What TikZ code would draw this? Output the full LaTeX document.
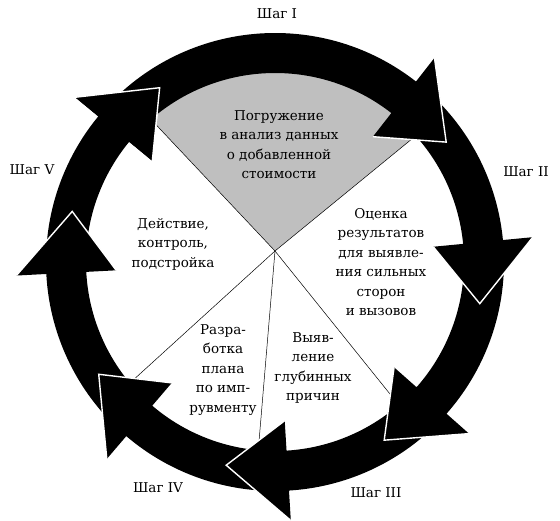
\documentclass[tikz,border=0pt]{standalone}
\usepackage{fontspec}
\setmainfont{DejaVu Serif}
\tikzset{
  pieline/.style={draw=black, line width=0.5pt},
  headedge/.style={draw=white, line width=1.4pt, line join=miter},
  sectortext/.style={align=center, inner sep=0pt, font=\fontsize{13.5}{19.5}\selectfont},
  steptext/.style={inner sep=0pt, font=\fontsize{13.5}{16}\selectfont}
}
\begin{document}
\begin{tikzpicture}[x=1pt,y=1pt]
\useasboundingbox (0,0) rectangle (560,521);
\coordinate (O) at (275,259);
\coordinate (P) at (275,270);

% sectors
\begin{scope}
\clip (O) circle (190);
\begin{scope}[shift={(P)}]
\fill[gray!50] (0,0) -- (39.3:320) -- (86:400) -- (133.3:320) -- cycle;
\foreach \a in {39.3,133.3,222.3,265.2,308.8}
  \draw[pieline] (0,0) -- (\a:320);
\end{scope}
\end{scope}

% ring of arrows: tail/base/tip angles
\begin{scope}[shift={(O)}]
\foreach \s/\b/\t in {-182/-219.5/-236.5, -135.5/-177/-194, -91.5/-130.5/-147.5,
                      -46.5/-86.5/-103.5, 0.5/-41.5/-58.5, 47/5.5/-11.5, 135.5/52/35}
{
  \fill (\s:189) -- (\s:229) arc[start angle=\s, end angle=\b, radius=229]
    -- (\b:259) -- (\t:209) -- (\b:159) -- (\b:189)
    arc[start angle=\b, end angle=\s, radius=189] -- cycle;
  \draw[headedge] (\b:259) -- (\t:209) -- (\b:159);
}
\fill (-219.5:259) -- (-236.5:209) -- (-219.5:159) -- cycle;
\draw[headedge] (-219.5:259) -- (-236.5:209) -- (-219.5:159);
\end{scope}

\node[sectortext] (immersion) at (279,376.5) {Погружение\\в анализ данных\\о добавленной\\стоимости};
\node[sectortext] (evaluation) at (381,259) {Оценка\\результатов\\для выявле-\\ния сильных\\сторон\\и вызовов};
\node[sectortext] (causes) at (313,153) {Выяв-\\ление\\глубинных\\причин};
\node[sectortext] (plan) at (223,151) {Разра-\\ботка\\плана\\по имп-\\рувменту};
\node[sectortext] (action) at (173,277) {Действие,\\контроль,\\подстройка};

\node[steptext] (stepI) at (277,507) {Шаг I};
\node[steptext] (stepII) at (526,349) {Шаг II};
\node[steptext] (stepIII) at (376,28) {Шаг III};
\node[steptext] (stepIV) at (158,33) {Шаг IV};
\node[steptext] (stepV) at (32,351) {Шаг V};
\end{tikzpicture}
\end{document}
